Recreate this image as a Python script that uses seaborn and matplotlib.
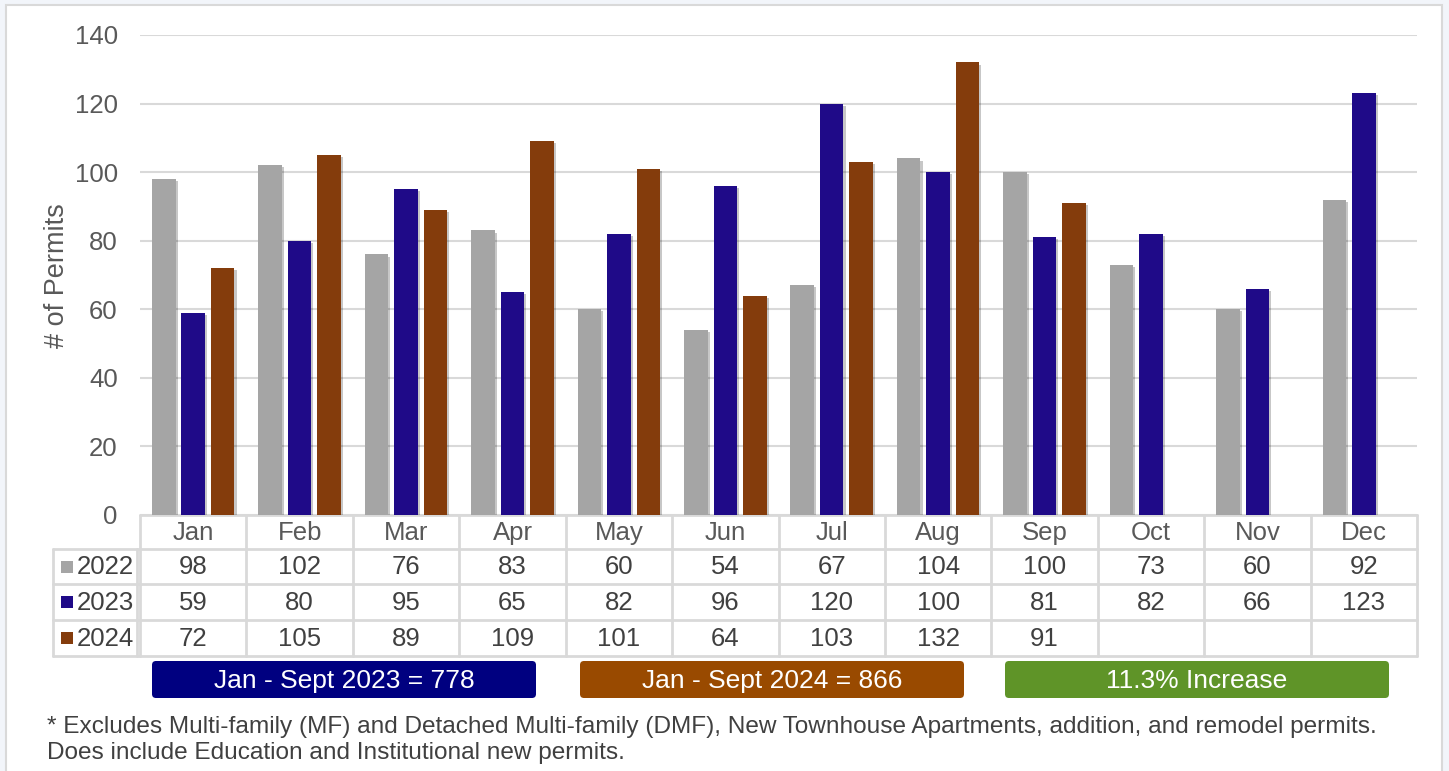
import numpy as np
import pandas as pd
import matplotlib
matplotlib.use("Agg")
import matplotlib.pyplot as plt
import matplotlib.patheffects as pe
from matplotlib.patches import Rectangle, FancyBboxPatch
import seaborn as sns

# ---- data ----
months = ["Jan", "Feb", "Mar", "Apr", "May", "Jun", "Jul", "Aug", "Sep", "Oct", "Nov", "Dec"]
years = ["2022", "2023", "2024"]
permits_2022 = [98, 102, 76, 83, 60, 54, 67, 104, 100, 73, 60, 92]
permits_2023 = [59, 80, 95, 65, 82, 96, 120, 100, 81, 82, 66, 123]
permits_2024 = [72, 105, 89, 109, 101, 64, 103, 132, 91, None, None, None]
yticks = [0, 20, 40, 60, 80, 100, 120, 140]
summary_labels = ["Jan - Sept 2023 = 778", "Jan - Sept 2024 = 866", "11.3% Increase"]
footnote = ("* Excludes Multi-family (MF) and Detached Multi-family (DMF), New Townhouse Apartments, "
            "addition, and remodel permits.\nDoes include Education and Institutional new permits.")

colors = {"2022": "#a5a5a5", "2023": "#1f0a88", "2024": "#843c0c"}
box_colors = ["#000080", "#994a00", "#5f9428"]

series = {"2022": permits_2022, "2023": permits_2023, "2024": permits_2024}
df = pd.DataFrame([
    {"Month": m, "Year": y, "Permits": (np.nan if v is None else v)}
    for y in years for m, v in zip(months, series[y])
])

sns.set_style("white")
plt.rcParams["font.family"] = ["Liberation Sans", "DejaVu Sans"]

FS = 18.5
W, H = 1449, 771
fig = plt.figure(figsize=(W / 100, H / 100), dpi=100, facecolor="#f2f5fa")

# background panel + table layer in pixel coordinates
bg = fig.add_axes([0, 0, 1, 1], zorder=0)
bg.set_xlim(0, W)
bg.set_ylim(H, 0)
bg.axis("off")
bg.add_patch(Rectangle((6, 5), 1436, 775, facecolor="white", edgecolor="#d9d9d9", lw=1.5))

# ---- bar chart ----
L, R, T, B = 140, 1417, 35, 515
ax = fig.add_axes([L / W, 1 - B / H, (R - L) / W, (B - T) / H], zorder=2)
ax.set_facecolor("none")
sns.barplot(data=df, x="Month", y="Permits", hue="Year", order=months, hue_order=years,
            palette=colors, width=0.83, gap=0.2, legend=False, ax=ax, saturation=1)
for p in ax.patches:
    p.set_edgecolor("none")
    p.set_path_effects([pe.SimplePatchShadow(offset=(1.5, -1.5), shadow_rgbFace="black", alpha=0.22),
                        pe.Normal()])
ax.set_ylim(0, 140)
ax.set_xlim(-0.5, 11.5)
ax.set_yticks(yticks)
ax.set_yticklabels([str(t) for t in yticks], fontsize=FS, color="#595959")
ax.tick_params(axis="y", length=0, pad=16)
ax.set_xticks([])
ax.set_xlabel("")
ax.set_ylabel("")
ax.yaxis.grid(True, color="#d9d9d9", lw=1.5)
ax.set_axisbelow(True)
for s in ax.spines.values():
    s.set_visible(False)
bg.text(57, 276, "# of Permits", rotation=90, ha="center", va="center",
        fontsize=19.5, color="#595959")

# ---- data table ----
line_c = "#d9d9d9"
col_w = (R - L) / 12
row_edges = [515, 549, 584, 620, 656]
leg_l = 53
txt_c = "#404040"
for yv in row_edges[:1]:
    bg.plot([L, R], [yv, yv], color=line_c, lw=2)
for yv in row_edges[1:]:
    bg.plot([leg_l, R], [yv, yv], color=line_c, lw=2)
for i in range(13):
    xv = L + i * col_w
    bg.plot([xv, xv], [row_edges[0], row_edges[-1]], color=line_c, lw=2)
bg.plot([leg_l, leg_l], [row_edges[1], row_edges[-1]], color=line_c, lw=2)
bg.plot([L - 3, L - 3], [row_edges[1], row_edges[-1]], color=line_c, lw=2)

for i, m in enumerate(months):
    cx = L + (i + 0.5) * col_w
    bg.text(cx, (row_edges[0] + row_edges[1]) / 2 + 1, m, ha="center", va="center",
            fontsize=FS, color="#595959")
    for r, y in enumerate(years):
        v = series[y][i]
        if v is not None:
            bg.text(cx, (row_edges[r + 1] + row_edges[r + 2]) / 2 + 1, str(v),
                    ha="center", va="center", fontsize=FS, color=txt_c)

for r, y in enumerate(years):
    cy = (row_edges[r + 1] + row_edges[r + 2]) / 2
    bg.add_patch(Rectangle((61, cy - 6), 12, 12, facecolor=colors[y], edgecolor="none"))
    bg.text(77, cy + 1, y, ha="left", va="center", fontsize=FS, color=txt_c)

# ---- summary boxes ----
box_x = [152, 580, 1005]
box_w = 384
for x0, lab, c in zip(box_x, summary_labels, box_colors):
    bg.add_patch(FancyBboxPatch((x0 + 4, 661 + 4), box_w - 8, 37 - 8,
                                boxstyle="round,pad=4", facecolor=c, edgecolor="none"))
    bg.text(x0 + box_w / 2, 681, lab, ha="center", va="center", fontsize=19, color="white")

# ---- footnote ----
bg.text(47, 740, footnote, ha="left", va="center", fontsize=17.6, color="#404040",
        linespacing=1.25)

fig.savefig("out.png", dpi=100, facecolor=fig.get_facecolor())
